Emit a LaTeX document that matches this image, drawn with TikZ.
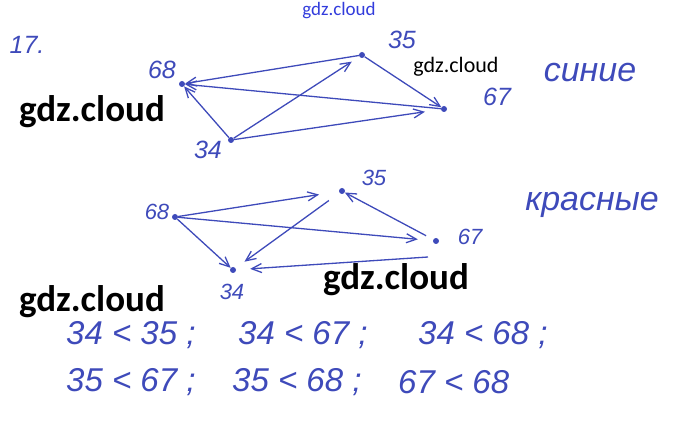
\documentclass[tikz,border=0pt]{standalone}
\usepackage{fontspec}
\usepackage{xcolor}
\setmainfont{Liberation Sans}
\newfontfamily\wmfont{Carlito}
\usetikzlibrary{arrows.meta}
\definecolor{inkblue}{RGB}{62,74,186}
\definecolor{wmblue}{RGB}{50,60,220}

\begin{document}
\begin{tikzpicture}[
    x=1pt,y=-1pt,
    pt/.style={circle,fill=inkblue,inner sep=0pt,minimum size=6pt},
    num/.style={text=inkblue,font=\itshape\fontsize{25}{25}\selectfont,inner sep=0pt},
    smallnum/.style={num,font=\itshape\fontsize{22}{22}\selectfont},
    word/.style={text=inkblue,font=\itshape\fontsize{34}{34}\selectfont,inner sep=0pt},
    rel/.style={text=inkblue,font=\itshape\fontsize{33}{33}\selectfont,inner sep=0pt,anchor=west},
    wmark/.style={text=black,font=\wmfont\bfseries\fontsize{37}{37}\selectfont,inner sep=0pt},
    arrow/.style={-{Straight Barb[length=10pt,width=9pt]},draw=inkblue,line width=1.3pt}
  ]
    \useasboundingbox (0,0) rectangle (678,422);

    % first graph
    \node[num] (title) at (27,45) {17.};
    \node[pt] (a68) at (182,84) {};
    \node[pt] (a35) at (362,55) {};
    \node[pt] (a67) at (444,109) {};
    \node[pt] (a34) at (231,140) {};
    \node[num] (l68) at (162,70) {68};
    \node[num] (l35) at (402,40) {35};
    \node[num] (l67) at (497,97) {67};
    \node[num] (l34) at (208,150) {34};
    \node[word] (blue) at (590,73) {синие};

    \draw[arrow] (a35) -- (a68);
    \draw[arrow] (a67) -- (a68);
    \draw[arrow] (a34) -- (a68);
    \draw[arrow,shorten >=9pt] (a34) -- (a35);
    \draw[arrow] (a35) -- (a67);
    \draw[arrow,shorten >=16pt] (a34) -- (a67);

    % second graph
    \node[pt] (b68) at (175,217) {};
    \node[pt] (b35) at (342,191) {};
    \node[pt] (b67) at (436,241) {};
    \node[pt] (b34) at (233,270) {};
    \node[smallnum] (m68) at (157,212) {68};
    \node[smallnum] (m35) at (374,178) {35};
    \node[smallnum] (m67) at (470,237) {67};
    \node[smallnum] (m34) at (232,292) {34};
    \node[word] (red) at (592,205) {красные};
    \coordinate (c67) at (428,257);

    \draw[arrow,shorten >=20pt] (b68) -- (b35);
    \draw[arrow,shorten >=15pt] (b68) -- (b67);
    \draw[arrow] (b68) -- (b34);
    \draw[arrow,shorten <=8pt] (b67) -- (b35);
    \draw[arrow,shorten <=13pt,shorten >=11pt] (b35) -- (b34);
    \draw[arrow,shorten >=14pt] (c67) -- (b34);

    % relations
    \node[rel] (r1) at (66,335) {34 < 35 ;};
    \node[rel] (r2) at (238,335) {34 < 67 ;};
    \node[rel] (r3) at (418,335) {34 < 68 ;};
    \node[rel] (r4) at (66,382) {35 < 67 ;};
    \node[rel] (r5) at (232,382) {35 < 68 ;};
    \node[rel] (r6) at (398,382) {67 < 68};

    % watermarks
    \node[text=wmblue,font=\wmfont\fontsize{19}{19}\selectfont,inner sep=0pt] (w0) at (339,11) {gdz.cloud};
    \node[text=black,font=\wmfont\fontsize{22}{22}\selectfont,inner sep=0pt] (w1) at (456,67) {gdz.cloud};
    \node[wmark] (w2) at (92,112) {gdz.cloud};
    \node[wmark] (w3) at (396,280) {gdz.cloud};
    \node[wmark] (w4) at (92,302) {gdz.cloud};
  \end{tikzpicture}
\end{document}
